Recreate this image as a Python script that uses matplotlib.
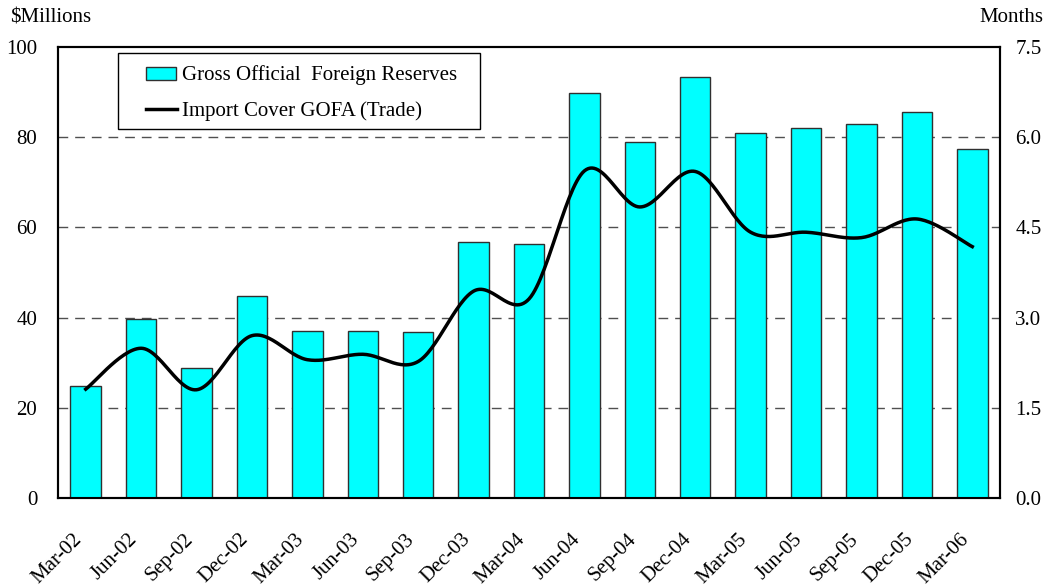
import numpy as np
import matplotlib
matplotlib.use("Agg")
import matplotlib.pyplot as plt
import matplotlib.transforms as mtransforms
from matplotlib.patches import Rectangle
from matplotlib.lines import Line2D

categories = ["Mar-02", "Jun-02", "Sep-02", "Dec-02", "Mar-03", "Jun-03", "Sep-03",
              "Dec-03", "Mar-04", "Jun-04", "Sep-04", "Dec-04", "Mar-05", "Jun-05",
              "Sep-05", "Dec-05", "Mar-06"]
reserves = [24.9, 39.7, 28.8, 44.8, 37.0, 37.0, 36.8, 56.7, 56.3, 89.8, 78.9,
            93.3, 80.9, 82.0, 82.9, 85.6, 77.4]
import_cover = [1.81, 2.49, 1.80, 2.70, 2.30, 2.39, 2.27, 3.44, 3.31, 5.44, 4.84,
                5.43, 4.42, 4.42, 4.33, 4.64, 4.18]
left_ticks = [0, 20, 40, 60, 80, 100]
right_ticks = [0.0, 1.5, 3.0, 4.5, 6.0, 7.5]
series_names = ["Gross Official  Foreign Reserves", "Import Cover GOFA (Trade)"]

plt.rcParams['font.family'] = ['Liberation Serif', 'DejaVu Serif']
FS = 15
BAR_COLOR = '#00FFFF'

W, H = 1051, 588
fig = plt.figure(figsize=(W / 100, H / 100), dpi=100)
L, R, T, B = 58, 1000, 47, 498
ax = fig.add_axes([L / W, 1 - B / H, (R - L) / W, (B - T) / H])
ax2 = ax.twinx()

def axc(px, py):
    return ((px - L) / (R - L), (B - py) / (B - T))

x = np.arange(len(categories))
ax.bar(x, reserves, width=0.55, color=BAR_COLOR, edgecolor='#303030', linewidth=1.0, zorder=3)

# Excel-style smoothed line (Bezier through the data points)
def smooth(xs, ys, n=30):
    xs = np.asarray(xs, float); ys = np.asarray(ys, float)
    px = np.concatenate([[xs[0]], xs, [xs[-1]]])
    py = np.concatenate([[ys[0]], ys, [ys[-1]]])
    outx, outy = [], []
    t = np.linspace(0, 1, n)
    for i in range(1, len(px) - 2):
        p0 = np.array([px[i], py[i]]); p3 = np.array([px[i+1], py[i+1]])
        c1 = p0 + (np.array([px[i+1], py[i+1]]) - np.array([px[i-1], py[i-1]])) / 6
        c2 = p3 - (np.array([px[i+2], py[i+2]]) - np.array([px[i], py[i]])) / 6
        b = (((1-t)**3)[:, None]*p0 + (3*(1-t)**2*t)[:, None]*c1
             + (3*(1-t)*t**2)[:, None]*c2 + (t**3)[:, None]*p3)
        outx.extend(b[:, 0]); outy.extend(b[:, 1])
    return np.array(outx), np.array(outy)

sx, sy = smooth(x, import_cover)
ax2.plot(sx, sy, color='black', linewidth=2.5, zorder=5)

ax.set_xlim(-0.5, len(categories) - 0.5)
ax.set_ylim(0, 100)
ax2.set_ylim(0, 7.5)
ax.set_yticks(left_ticks)
ax.set_yticklabels([str(v) for v in left_ticks], fontsize=FS)
ax2.set_yticks(right_ticks)
ax2.set_yticklabels([f"{v:.1f}" for v in right_ticks], fontsize=FS)
ax.set_xticks(x)
ax.set_xticklabels(categories, rotation=45, ha='right', va='top',
                   rotation_mode='anchor', fontsize=FS)
ax.tick_params(axis='x', length=0, pad=23)
ax.tick_params(axis='y', length=0, pad=15)
ax2.tick_params(axis='y', length=0, pad=11)
offset = mtransforms.ScaledTranslation(-13 / 100, 0, fig.dpi_scale_trans)
for lab in ax.get_xticklabels():
    lab.set_transform(lab.get_transform() + offset)

for v in left_ticks[1:-1]:
    ax.axhline(v, color='#505050', linestyle=(0, (7, 5)), linewidth=1.0, zorder=1)

for a in (ax, ax2):
    for s in a.spines.values():
        s.set_color('black')
        s.set_linewidth(1.5)

ax.set_zorder(1)
ax2.set_zorder(2)
ax2.patch.set_visible(False)

fig.text(10 / W, 1 - 18 / H, "$Millions", fontsize=FS, va='center', ha='left')
fig.text(1043 / W, 1 - 18 / H, "Months", fontsize=FS, va='center', ha='right')

# Legend drawn in axes coordinates
tr = ax2.transAxes
x0, y0 = axc(118, 129)
x1, y1 = axc(480, 53)
ax2.add_patch(Rectangle((x0, y0), x1 - x0, y1 - y0, transform=tr, facecolor='white',
                        edgecolor='black', linewidth=1.0, zorder=10, clip_on=False))
px0, py0 = axc(146, 80)
px1, py1 = axc(176, 67)
ax2.add_patch(Rectangle((px0, py0), px1 - px0, py1 - py0, transform=tr,
                        facecolor=BAR_COLOR, edgecolor='#303030', linewidth=1.0,
                        zorder=11, clip_on=False))
lx0, ly = axc(146, 109)
lx1, _ = axc(177, 109)
ax2.add_line(Line2D([lx0, lx1], [ly, ly], transform=tr, color='black', linewidth=2.5,
                    zorder=11, clip_on=False))
tx, ty1 = axc(182, 75)
_, ty2 = axc(182, 111)
ax2.text(tx, ty1, series_names[0], transform=tr, fontsize=FS, va='center', ha='left', zorder=12)
ax2.text(tx, ty2, series_names[1], transform=tr, fontsize=FS, va='center', ha='left', zorder=12)

fig.savefig("out.png", dpi=100)
